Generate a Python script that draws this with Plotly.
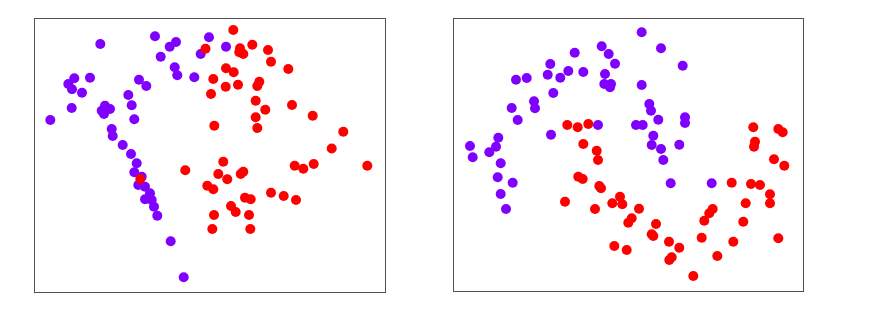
import plotly.graph_objects as go

# Left panel data (x, y in plot units; y grows downward)
left_purple_x = [100.3, 155, 176, 169.7, 160.7, 209, 200.7, 174.7, 177.3, 194.3, 74.3, 90, 68.3, 72, 82,
                 139, 146.3, 128.3, 131.7, 134.3, 71.7, 50.3, 105, 101.7, 110, 104, 111.7, 112.7, 122.7, 131,
                 226, 136.7, 134.3, 141.7, 138.3, 145, 150, 145, 151.7, 154, 157.3, 170.7, 183.7]
left_purple_y = [44, 36.3, 42, 46.7, 56.7, 37.3, 54, 67.3, 75.3, 77.3, 78.3, 77.7, 84, 89.3, 92.7,
                 79.7, 86, 95, 105.3, 119.3, 108, 120, 105.7, 110.7, 109, 114, 129, 136, 145, 154,
                 46.7, 163.3, 172.3, 176.7, 185, 186.7, 193.3, 199.3, 200, 206.7, 215.7, 241.3, 277.3]
left_red_x = [205.5, 233.3, 240, 243.3, 239.3, 252.3, 268, 271, 288.3, 226, 233.7, 213.3, 225.7, 238, 259.3,
              257.3, 211, 255.7, 265.3, 292, 255.7, 312.7, 214.3, 257.3, 343.3, 331.7,
              223.3, 218.3, 227.3, 240.7, 243.3, 207.3, 213.3, 245, 250.7, 231, 235.7, 214, 249, 212.3,
              250.3, 271, 283.7, 296, 294.7, 303.3, 313.7, 367.3, 140.3, 185.3]
left_red_y = [48.8, 30, 48.3, 54, 52.3, 44.7, 50, 61.7, 69, 68.3, 72.3, 79, 86.7, 84.7, 81.7,
              86, 94, 100.7, 109.7, 105, 117.3, 115.7, 125.7, 128, 131.7, 148.5,
              161.7, 174, 179.3, 174, 171.7, 185.7, 189.3, 197.7, 199.3, 206, 212, 215, 215, 229,
              229, 192.7, 196, 200, 165.7, 168.7, 164, 165.7, 179, 170.3]

# Right panel data
right_purple_x = [601.7, 608.7, 615, 574.7, 550.3, 547.7, 560.3, 568.3, 583.3, 605, 604.3, 611, 610, 516, 526.7,
                  553.3, 534, 535, 511.7, 517.7, 598, 551, 498.3, 496, 470, 489.3,
                  641.7, 661, 682.7, 641.7, 649.3, 651, 658.3, 636, 642.7, 685, 685, 653.3, 651.7, 661, 679.3,
                  472.7, 500.7, 497.7, 512.7, 500.7, 506, 663.3, 670.7, 711.7]
right_purple_y = [46.3, 54, 63.7, 52.7, 64, 74.7, 77.7, 71, 72, 74, 84, 84, 87.3, 79.7, 78,
                  93, 101.3, 108.3, 108, 120, 125, 134.7, 137.7, 146.7, 146, 152.3,
                  32.3, 48.3, 65.7, 85, 104, 110.7, 119.7, 125, 125, 117.3, 123, 135.7, 145, 149, 144.7,
                  157.3, 163.3, 177.3, 182.7, 194, 209, 160, 183.3, 183.3]
right_red_x = [567.3, 577.7, 588.3, 583.3, 596.7, 753.3, 778.3, 782.7, 755, 754,
               598, 578.3, 582.7, 599.3, 601, 565, 595, 612.3, 620, 622.3, 628.3, 614.3, 626.7,
               774, 784.3, 731.7, 751, 760, 770, 770, 745.7, 743.3, 778.3, 733.3, 639, 631.7, 656,
               651.7, 653.3, 669, 679.3, 671.7, 669.3, 693.3, 717.3, 701.7, 704.3, 709.3, 712.7]
right_red_y = [125, 127.3, 124, 144, 150.7, 127.3, 129, 132.3, 141.7, 146.7,
               160, 176.7, 179, 186, 188.3, 201.7, 209, 203.3, 196.7, 204.3, 222.7, 246, 250,
               159.3, 165.7, 182.7, 184, 185, 194.3, 203.3, 203.3, 221.7, 238.3, 241.7, 208.7, 218.3, 224,
               234.3, 236, 241.7, 247.7, 257.3, 260, 276, 256, 237.7, 220.7, 213.3, 209]

PURPLE = "#8000ff"
RED = "#ff0000"
MS = 10

fig = go.Figure()

def add(xs, ys, color, xa, ya):
    fig.add_trace(go.Scatter(x=xs, y=ys, mode="markers",
                             marker=dict(color=color, size=MS, line=dict(width=0)),
                             xaxis=xa, yaxis=ya, showlegend=False, hoverinfo="skip"))

add(left_purple_x, left_purple_y, PURPLE, "x", "y")
add(left_red_x, left_red_y, RED, "x", "y")
add(right_red_x, right_red_y, RED, "x2", "y2")
add(right_purple_x, right_purple_y, PURPLE, "x2", "y2")

W, H = 873, 322
ax_common = dict(showgrid=False, zeroline=False, showticklabels=False, ticks="",
                 showline=True, linecolor="#505050", linewidth=1.2, mirror=True)

fig.update_layout(
    width=W, height=H,
    margin=dict(l=0, r=0, t=0, b=0),
    paper_bgcolor="white", plot_bgcolor="white",
    xaxis=dict(domain=[35 / W, 385 / W], range=[35, 385], **ax_common),
    yaxis=dict(domain=[1 - 291.5 / H, 1 - 18.5 / H], range=[291.5, 18.5], **ax_common),
    xaxis2=dict(domain=[454 / W, 803 / W], range=[454, 803], anchor="y2", **ax_common),
    yaxis2=dict(domain=[1 - 291 / H, 1 - 18.5 / H], range=[291, 18.5], anchor="x2", **ax_common),
)

fig.write_html("out.html")
